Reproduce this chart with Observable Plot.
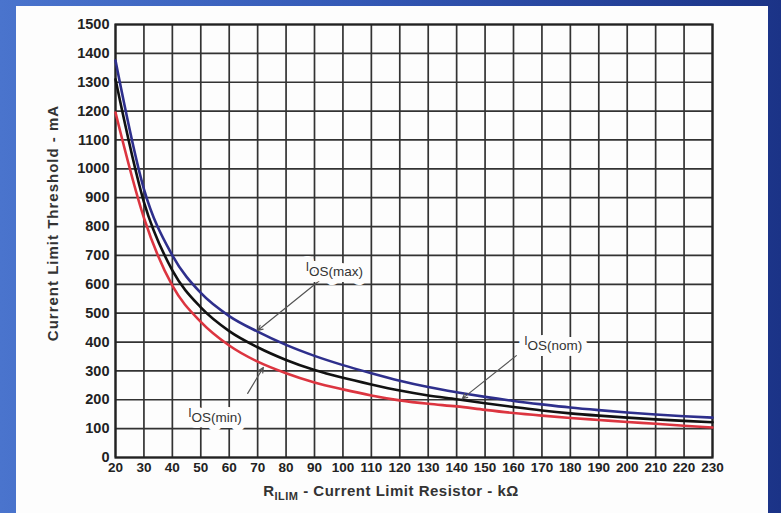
<!DOCTYPE html>
<html><head><meta charset="utf-8">
<script src="https://cdn.jsdelivr.net/npm/d3@7"></script>
<script src="https://cdn.jsdelivr.net/npm/@observablehq/plot@0.6"></script>
<style>
html,body{margin:0;padding:0;}
body{width:781px;height:513px;overflow:hidden;position:relative;background:linear-gradient(to right,#4a74cd 0%,#3459b6 45%,#1b3387 100%);}
#panel{position:absolute;left:16px;top:6px;width:752px;height:507px;background:#fdfdfd;}
#chart{position:absolute;left:0;top:0;}
</style></head><body><div id="panel"></div><div id="chart"></div>
<script>
const resistance = [20,30,40,50,60,70,80,90,100,110,120,130,140,150,160,170,180,190,200,210,220,230];
const iosMax = [1375,930,700,570,490,436,390,352,320,292,266,244,226,210,196,184,173,164,156,149,143,138];
const iosNom = [1310,885,648,520,438,382,338,303,276,253,232,215,202,188,175,163,153,145,138,132,127,122];
const iosMin = [1195,830,595,470,388,332,292,260,236,215,198,186,177,165,154,145,137,130,123,117,110,104];
const xTicks = [20,30,40,50,60,70,80,90,100,110,120,130,140,150,160,170,180,190,200,210,220,230];
const yTicks = [0,100,200,300,400,500,600,700,800,900,1000,1100,1200,1300,1400,1500];
const labelText = ["I_{OS(max)}","I_{OS(nom)}","I_{OS(min)}"];
const labelR = [97,174,55];
const labelI = [662,405,156];
const arrowFromR = [93,161,66.5];
const arrowFromI = [623,353,222];
const arrowToR = [70,142,72];
const arrowToI = [440,204,312];
const xTitle = "R_{ILIM} - Current Limit Resistor - kΩ";
const yTitle = "Current Limit Threshold - mA";

const mk = vals => resistance.map((r,i)=>({r, v: vals[i]}));
const labels = labelText.map((t,i)=>({t, r: labelR[i], v: labelI[i]}));
const arrows = arrowFromR.map((r,i)=>({x1:r, y1:arrowFromI[i], x2:arrowToR[i], y2:arrowToI[i]}));

const plot = Plot.plot({
  width: 781, height: 513,
  marginLeft: 115, marginRight: 69, marginTop: 24, marginBottom: 56,
  style: {background: "transparent", fontFamily: "'Liberation Sans', Arial, sans-serif", fontSize: "13px", fontWeight: "bold", color: "#222"},
  x: {domain: [20,230], label: null},
  y: {domain: [0,1500], label: null},
  marks: [
    Plot.gridX(xTicks, {stroke: "#333", strokeOpacity: 1, strokeWidth: 1.7}),
    Plot.gridY(yTicks, {stroke: "#333", strokeOpacity: 1, strokeWidth: 1.7}),
    Plot.frame({stroke: "#222", strokeWidth: 2.2}),
    Plot.axisX(xTicks, {tickSize: 0, tickPadding: 5, fill: "#222", fontWeight: "bold", fontSize: 13.5, tickFormat: d => String(d)}),
    Plot.axisY(yTicks, {tickSize: 0, tickPadding: 6, fill: "#222", fontWeight: "bold", fontSize: 14.5, tickFormat: d => String(d)}),
    Plot.line(mk(iosMin), {x: "r", y: "v", stroke: "#dc3540", strokeWidth: 2.6, curve: "monotone-x"}),
    Plot.line(mk(iosMax), {x: "r", y: "v", stroke: "#2e2f8c", strokeWidth: 2.6, curve: "monotone-x"}),
    Plot.line(mk(iosNom), {x: "r", y: "v", stroke: "#111", strokeWidth: 2.6, curve: "monotone-x"}),
    Plot.arrow(arrows, {x1: "x1", y1: "y1", x2: "x2", y2: "y2", stroke: "#555", strokeWidth: 1.2, headLength: 7, headAngle: 50}),
    Plot.text(labels, {x: "r", y: "v", text: "t", fill: "#fdfdfd", stroke: "#fdfdfd", strokeWidth: 12, fontWeight: "normal", fontSize: 13.5}),
    Plot.text(labels, {x: "r", y: "v", text: "t", fill: "#333", fontWeight: "normal", fontSize: 13.5}),
    Plot.text([yTitle], {frameAnchor: "left", textAnchor: "middle", rotate: -90, dx: -62, dy: -18, fill: "#333", fontSize: 15, fontWeight: "bold", className: "ytitle"}),
    Plot.text([xTitle], {frameAnchor: "bottom", textAnchor: "middle", dx: -23, dy: 38, fill: "#333", fontSize: 15, fontWeight: "bold", className: "xtitle"})
  ]
});

// convert _{...} into subscript tspans
d3.select(plot).selectAll("text").each(function(){
  const t = this.textContent;
  if (!t.includes("_{")) return;
  const el = d3.select(this);
  el.text(null);
  const parts = t.split(/_\{([^}]*)\}/);
  const isI = parts[0] === "I";
  parts.forEach((p, i) => {
    if (p === "") return;
    const sub = i % 2 === 1;
    const ts = el.append("tspan").text(p);
    if (sub) {
      ts.attr("dy", isI ? "5" : "4");
      if (!isI) ts.attr("font-size", "11");
    } else if (i > 0) {
      ts.attr("dy", isI ? "-5" : "-4");
    }
    if (isI && !sub) ts.attr("font-size", "12");
  });
});
d3.select(plot).selectAll(".ytitle text").style("letter-spacing", "1px");
d3.select(plot).selectAll(".xtitle text").style("letter-spacing", "0.5px");

document.getElementById("chart").appendChild(plot);
</script></body></html>
